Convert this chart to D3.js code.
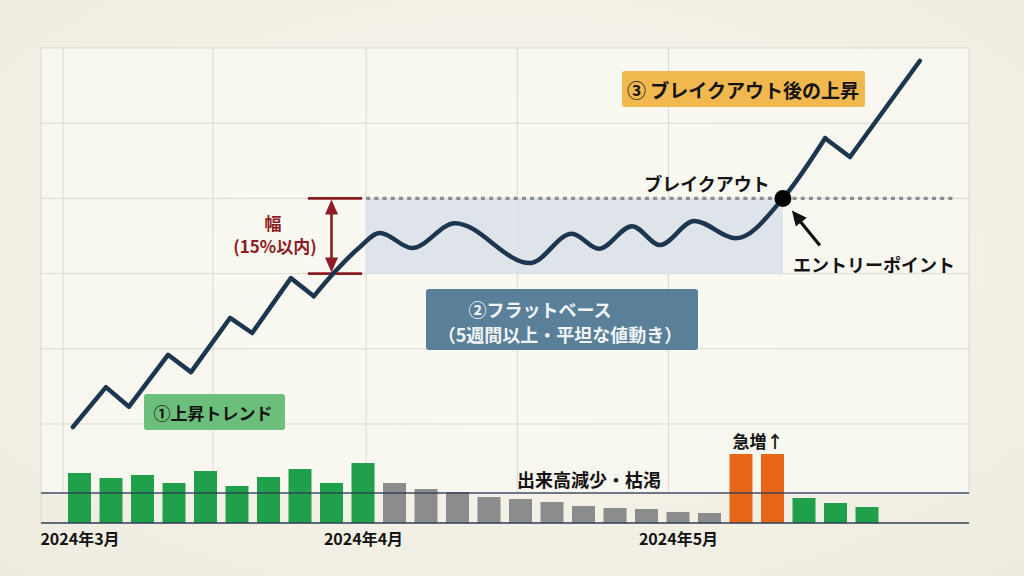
<!DOCTYPE html>
<html><head><meta charset="utf-8">
<script src="https://cdn.jsdelivr.net/npm/d3@7/dist/d3.min.js"></script>
<style>
html,body{margin:0;padding:0;background:#f3f0e6;}
svg{display:block;font-family:"Noto Sans CJK JP","Noto Sans",sans-serif;}
</style></head>
<body>
<svg id="c" width="1024" height="576"></svg>
<script>
// ---------- DATA ----------
const weekTickValues = [0, 9, 19];
const weekTickLabels = ["2024年3月", "2024年4月", "2024年5月"];
const gridWeeks = [-0.52, 4.24, 9.1, 13.9, 18.7];
const gridPrices = [100, 110, 120, 130, 140, 150];

// ① uptrend (zig-zag)
const trendWeeks  = [-0.21, 0.84, 1.57, 2.81, 3.54, 4.78, 5.48, 6.71, 7.44];
const trendPrices = [99.6, 104.9, 102.3, 109.2, 106.9, 114.1, 112.1, 119.4, 117.0];
// ② flat base (smooth waves) up to breakout
const baseWeeks  = [7.44, 8.1, 8.84, 9.54, 10.56, 11.92, 14.30, 15.63, 16.49, 17.54, 18.43, 19.51, 20.84, 22.33, 23.67];
const basePrices = [117.0, 120.2, 123.3, 125.4, 123.4, 126.7, 121.4, 125.3, 123.3, 126.3, 123.8, 127.0, 124.7, 130.0, 138.0];
// ③ post-breakout rise
const riseWeeks  = [23.67, 24.46, 26.68];
const risePrices = [138.0, 135.5, 148.3];

const breakoutWeek = 22.33, breakoutPrice = 130;
const baseStartWeek = 9.1, baseTop = 130, baseBottom = 120;
const pivotEndWeek = 27.75;

// weekly volume
const volumeValues = [100, 90, 96, 80, 104, 74, 92, 108, 80, 120,
                      80, 68, 62, 52, 48, 42, 34, 30, 28, 22, 20,
                      138, 138, 50, 40, 32];
const volumePhase = ["trend","trend","trend","trend","trend","trend","trend","trend","trend","trend",
                     "base","base","base","base","base","base","base","base","base","base","base",
                     "breakout","breakout","rise","rise","rise"];
const volumeRefLevel = 60;

// ---------- SCALES ----------
const svg = d3.select("#c");
const W = 1024, H = 576;
const plotL = 41, plotR = 969, plotT = 48, plotB = 493;
const x = d3.scaleLinear().domain([0, 25]).range([79.5, 867]);
const y = d3.scaleLinear().domain([100, 150]).range([424, 48]);
const yv = d3.scaleLinear().domain([0, 150]).range([523, 448]);
const phaseColor = d3.scaleOrdinal()
  .domain(["trend","base","breakout","rise"])
  .range(["#21a04c", "#8c8c8c", "#e8661a", "#21a04c"]);

// background
const defs = svg.append("defs");
const rg = defs.append("radialGradient").attr("id","bg").attr("cx","50%").attr("cy","45%").attr("r","75%");
rg.append("stop").attr("offset","0%").attr("stop-color","#f8f7f0");
rg.append("stop").attr("offset","100%").attr("stop-color","#efebdf");
svg.append("rect").attr("width",W).attr("height",H).attr("fill","url(#bg)");
svg.append("rect").attr("x",plotL).attr("y",plotT).attr("width",plotR-plotL).attr("height",plotB-plotT)
  .attr("fill","#faf9f3").attr("opacity",0.75);

// grid
const grid = svg.append("g").attr("stroke","#d9d9d3").attr("stroke-width",1).attr("fill","none");
grid.selectAll("line.h").data(gridPrices).join("line").attr("class","h")
  .attr("x1",plotL).attr("x2",plotR).attr("y1",d=>y(d)).attr("y2",d=>y(d));
grid.selectAll("line.v").data(gridWeeks).join("line").attr("class","v")
  .attr("x1",d=>x(d)).attr("x2",d=>x(d)).attr("y1",plotT).attr("y2",plotB);
grid.append("line").attr("x1",plotL).attr("x2",plotL).attr("y1",plotT).attr("y2",yv(0));
grid.append("line").attr("x1",plotR).attr("x2",plotR).attr("y1",plotT).attr("y2",plotB);

// flat base shading
svg.append("rect")
  .attr("x", x(baseStartWeek)).attr("y", y(baseTop))
  .attr("width", x(breakoutWeek) - x(baseStartWeek))
  .attr("height", y(baseBottom) - y(baseTop))
  .attr("fill", "#dae1e8").attr("opacity", 0.9);

// pivot dotted line
svg.append("line")
  .attr("x1", x(baseStartWeek)).attr("x2", x(pivotEndWeek))
  .attr("y1", y(baseTop)).attr("y2", y(baseTop))
  .attr("stroke", "#8d8d8d").attr("stroke-width", 3.2).attr("stroke-dasharray", "4,4.2");

// width bracket
const red = "#8b1d24";
const brL = x(7.25), brR = x(8.97), brX = x(8.0);
const br = svg.append("g").attr("stroke", red).attr("stroke-width", 2.6);
[baseTop, baseBottom].forEach(p => br.append("line").attr("x1",brL).attr("x2",brR).attr("y1",y(p)).attr("y2",y(p)));
br.append("line").attr("x1",brX).attr("x2",brX).attr("y1",y(baseTop)+10).attr("y2",y(baseBottom)-10);
svg.append("path").attr("fill",red)
  .attr("d",`M${brX},${y(baseTop)+1}L${brX-6.5},${y(baseTop)+16}L${brX+6.5},${y(baseTop)+16}Z`);
svg.append("path").attr("fill",red)
  .attr("d",`M${brX},${y(baseBottom)-1}L${brX-6.5},${y(baseBottom)-16}L${brX+6.5},${y(baseBottom)-16}Z`);
svg.append("text").attr("x",273).attr("y",230).attr("text-anchor","middle")
  .attr("font-size",17).attr("font-weight",700).attr("fill",red).text("幅");
svg.append("text").attr("x",275).attr("y",253).attr("text-anchor","middle")
  .attr("font-size",17).attr("font-weight",700).attr("fill",red).text("(15%以内)");

// volume bars
const bw = (x(1) - x(0)) * 0.73;
svg.append("g").selectAll("rect").data(volumeValues).join("rect")
  .attr("x", (d,i) => x(i) - bw/2)
  .attr("y", d => yv(d))
  .attr("width", bw)
  .attr("height", d => yv(0) - yv(d))
  .attr("fill", (d,i) => phaseColor(volumePhase[i]));

// volume reference line & baseline
svg.append("line").attr("x1",plotL).attr("x2",plotR).attr("y1",yv(volumeRefLevel)).attr("y2",yv(volumeRefLevel))
  .attr("stroke","#2c3e55").attr("stroke-width",1.6).attr("opacity",0.9);
svg.append("line").attr("x1",plotL).attr("x2",plotR).attr("y1",yv(0)).attr("y2",yv(0))
  .attr("stroke","#2c3e55").attr("stroke-width",1.6);

// price line
const navy = "#1c3650";
const lineLin = d3.line().x(d=>x(d[0])).y(d=>y(d[1])).curve(d3.curveLinear);
const lineSmooth = d3.line().x(d=>x(d[0])).y(d=>y(d[1])).curve(d3.curveMonotoneX);
const pg = svg.append("g").attr("fill","none").attr("stroke",navy).attr("stroke-width",4.5)
  .attr("stroke-linejoin","round").attr("stroke-linecap","round");
pg.append("path").attr("d", lineLin(d3.zip(trendWeeks, trendPrices)));
pg.append("path").attr("d", lineSmooth(d3.zip(baseWeeks, basePrices)));
pg.append("path").attr("d", lineLin(d3.zip(riseWeeks, risePrices)));

// breakout dot
svg.append("circle").attr("cx", x(breakoutWeek)).attr("cy", y(breakoutPrice)).attr("r", 8.5).attr("fill", "#050505");

// entry arrow
const ax0 = x(breakoutWeek) + 37, ay0 = y(breakoutPrice) + 47;
const ax1 = x(breakoutWeek) + 9, ay1 = y(breakoutPrice) + 12;
svg.append("line").attr("x1",ax0).attr("y1",ay0).attr("x2",ax1+6).attr("y2",ay1+8)
  .attr("stroke","#111").attr("stroke-width",3.2);
{
  const ang = Math.atan2(ay1-ay0, ax1-ax0), L = 15, Wd = 7;
  const bx = ax1 - L*Math.cos(ang), by = ay1 - L*Math.sin(ang);
  const px = -Math.sin(ang)*Wd, py = Math.cos(ang)*Wd;
  svg.append("path").attr("fill","#111")
    .attr("d",`M${ax1},${ay1}L${bx+px},${by+py}L${bx-px},${by-py}Z`);
}

// text helpers
function label(t, xx, yy, size, color, anchor="middle") {
  return svg.append("text").attr("x",xx).attr("y",yy).attr("text-anchor",anchor)
    .attr("dominant-baseline","central")
    .attr("font-size",size).attr("font-weight",700).attr("fill",color).text(t);
}
function box(x0,y0,w,h,fill){
  svg.append("rect").attr("x",x0).attr("y",y0).attr("width",w).attr("height",h).attr("rx",3).attr("fill",fill);
}

box(622, 71, 243, 36, "#f0b84f");
label("③ ブレイクアウト後の上昇", 743, 89, 19, "#141414");

box(426, 289, 272, 61, "#597f99");
label("②フラットベース", 540, 309, 18, "#f1f4f6");
label("（5週間以上・平坦な値動き）", 560, 334, 18, "#f1f4f6");

box(144, 394, 141, 36, "#6bbf7b");
label("①上昇トレンド", 213, 412, 17, "#141414");

label("ブレイクアウト", 707, 183, 18, "#141414");
label("エントリーポイント", 874, 264, 18, "#141414");
label("急増↑", 758, 440, 17, "#141414");
label("出来高減少・枯渇", 589, 479, 18, "#141414");

// x axis
const axis = d3.axisBottom(x).tickValues(weekTickValues)
  .tickFormat((d,i) => weekTickLabels[i]).tickSize(0).tickPadding(0);
const ag = svg.append("g").attr("transform", `translate(0,${534})`).call(axis);
ag.select(".domain").remove();
ag.selectAll("text").attr("font-size",16).attr("font-weight",700).attr("fill","#141414")
  .attr("font-family",'"Noto Sans CJK JP","Noto Sans",sans-serif');
</script>
</body></html>
